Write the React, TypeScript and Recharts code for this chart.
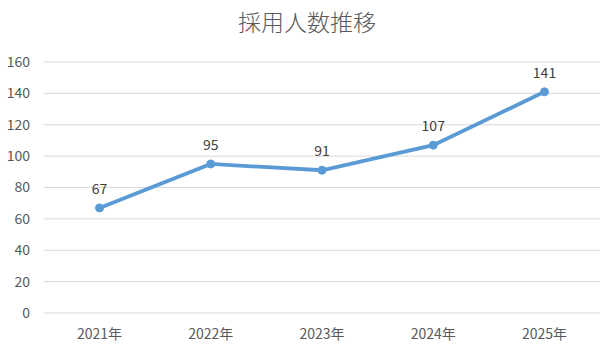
import React from "react";
import { LineChart, Line, XAxis, YAxis, CartesianGrid, LabelList } from "recharts";

const categories = ["2021年", "2022年", "2023年", "2024年", "2025年"];
const hires = [67, 95, 91, 107, 141];
const yTicks = [0, 20, 40, 60, 80, 100, 120, 140, 160];
const title = "採用人数推移";

const data = categories.map((c, i) => ({ year: c, value: hires[i] }));

const FONT = '"Noto Sans CJK JP", "Noto Sans", sans-serif';

export default function App() {
  return (
    <div style={{ position: "absolute", left: 0, top: 0, width: 610, height: 354, background: "#fff", fontFamily: FONT }}>
      <div
        style={{
          position: "absolute",
          top: 6,
          left: 0,
          width: 614,
          textAlign: "center",
          fontSize: 23,
          fontWeight: 300,
          color: "#595959",
          lineHeight: "30px",
        }}
      >
        {title}
      </div>
      <LineChart width={610} height={354} data={data} margin={{ top: 62, right: 10, bottom: 11, left: 0 }}>
        <CartesianGrid vertical={false} stroke="#d9d9d9" strokeWidth={1} />
        <XAxis
          dataKey="year"
          axisLine={false}
          tickLine={false}
          padding={{ left: 55.5, right: 55.5 }}
          height={30}
          tickMargin={10}
          tick={{ fill: "#595959", fontSize: 14, fontFamily: FONT }}
          interval={0}
        />
        <YAxis
          domain={[0, 160]}
          ticks={yTicks}
          axisLine={false}
          tickLine={false}
          width={44}
          tickMargin={8}
          tick={{ fill: "#595959", fontSize: 14, fontFamily: FONT }}
        />
        <Line
          type="linear"
          dataKey="value"
          stroke="#5b9bd5"
          strokeWidth={3.75}
          dot={{ r: 4, fill: "#5b9bd5", stroke: "#5b9bd5", strokeWidth: 1 }}
          isAnimationActive={false}
        >
          <LabelList dataKey="value" position="top" offset={14} fill="#404040" fontSize={14} fontFamily={FONT} />
        </Line>
      </LineChart>
    </div>
  );
}
